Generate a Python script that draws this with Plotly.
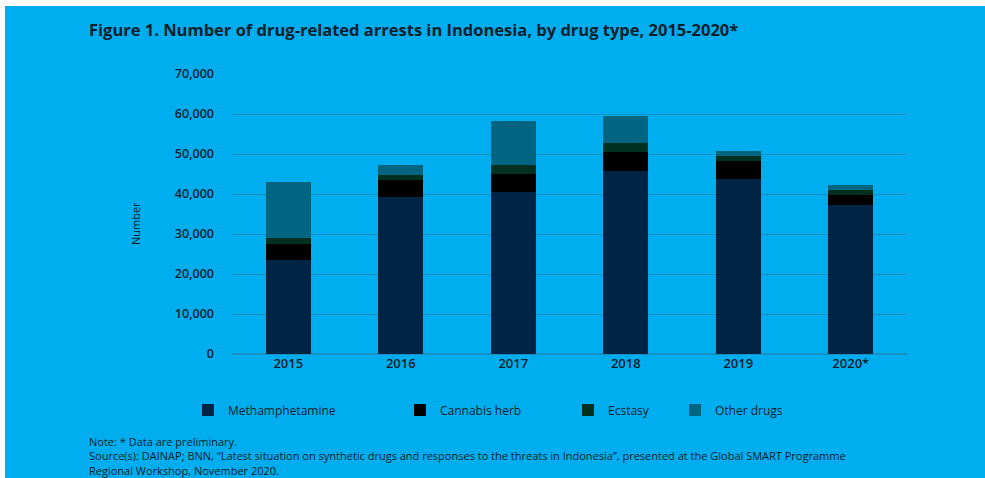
import plotly.graph_objects as go

years = ["2015", "2016", "2017", "2018", "2019", "2020*"]
methamphetamine = [23400, 39300, 40500, 45800, 43750, 37250]
cannabis_herb = [4200, 4100, 4600, 4700, 4400, 2400]
ecstasy = [1400, 1300, 2250, 2150, 1250, 1400]
other_drugs = [13900, 2600, 11000, 6850, 1350, 1200]

series_names = ["Methamphetamine", "Cannabis herb", "Ecstasy", "Other drugs"]
series_values = [methamphetamine, cannabis_herb, ecstasy, other_drugs]
colors = ["#002544", "#000000", "#00301f", "#006580"]
legend_ids = ["legend", "legend2", "legend3", "legend4"]
legend_x = [-0.0652, 0.2489, 0.4978, 0.6563]

BG = "#00adee"
TXT = "#0b1e2c"
FONT = "Open Sans"

fig = go.Figure()
for name, vals, col, lid in zip(series_names, series_values, colors, legend_ids):
    fig.add_trace(go.Bar(x=years, y=vals, name=name, marker=dict(color=col, line=dict(width=0)),
                         width=0.4, legend=lid))

legend_common = dict(orientation="h", yanchor="middle", y=-0.2, xanchor="left",
                     bgcolor="rgba(0,0,0,0)", font=dict(family=FONT, size=12, color=TXT),
                     traceorder="normal")
layout_legends = {}
for lid, lx in zip(legend_ids, legend_x):
    layout_legends[lid] = dict(legend_common, x=lx)

fig.update_layout(
    width=985, height=478,
    margin=dict(l=232, r=78, t=74, b=124, pad=0),
    paper_bgcolor=BG, plot_bgcolor=BG,
    barmode="stack",
    showlegend=True,
    font=dict(family=FONT, color=TXT),
    xaxis=dict(showgrid=False, showline=False, ticks="", zeroline=False,
               tickfont=dict(family=FONT, size=13, color=TXT, weight=600)),
    yaxis=dict(range=[0, 70000], dtick=10000, tickformat=",d", showgrid=True,
               gridcolor="#1590c4", gridwidth=1, zeroline=True, zerolinecolor="#1590c4",
               showline=False, ticks="", ticklabelstandoff=17,
               tickfont=dict(family=FONT, size=12.5, color=TXT, weight=600)),
    **layout_legends,
)

# white page edges (top and left strips of the original image)
fig.add_shape(type="rect", xref="paper", yref="paper", x0=-0.5, x1=1.2, y0=(354 - 6) / 280, y1=(354 + 10) / 280,
              fillcolor="white", line=dict(width=0), layer="above")
fig.add_shape(type="rect", xref="paper", yref="paper", x0=(0 - 232) / 675 - 0.05, x1=(5 - 232) / 675,
              y0=-0.6, y1=1.4, fillcolor="white", line=dict(width=0), layer="above")

def px_x(px):
    return (px - 232) / 675

def px_y(py):
    return (354 - py) / 280

fig.add_annotation(text="<b>Figure 1. Number of drug-related arrests in Indonesia, by drug type, 2015-2020*</b>",
                   xref="paper", yref="paper", x=px_x(87), y=px_y(30), xanchor="left", yanchor="middle",
                   showarrow=False, font=dict(family=FONT, size=16.5, color=TXT))
fig.add_annotation(text="Number", textangle=-90, xref="paper", yref="paper", x=px_x(135), y=px_y(224),
                   xanchor="center", yanchor="middle", showarrow=False,
                   font=dict(family=FONT, size=11, color=TXT))
note_lines = [
    "Note: * Data are preliminary.",
    "Source(s): DAINAP; BNN, \u201cLatest situation on synthetic drugs and responses to the threats in Indonesia\u201d, presented at the Global SMART Programme",
    "Regional Workshop, November 2020.",
]
fig.add_annotation(text="<br>".join(note_lines), xref="paper", yref="paper", x=px_x(87), y=px_y(455.5),
                   xanchor="left", yanchor="middle", align="left", showarrow=False,
                   font=dict(family=FONT, size=11, color=TXT))

fig.write_html("out.html", config={"displayModeBar": False})

with open("out.html", "r", encoding="utf-8") as f:
    html = f.read()
html = html.replace("<head>", "<head><style>html,body{margin:0;padding:0;overflow:hidden}</style>", 1)
with open("out.html", "w", encoding="utf-8") as f:
    f.write(html)
